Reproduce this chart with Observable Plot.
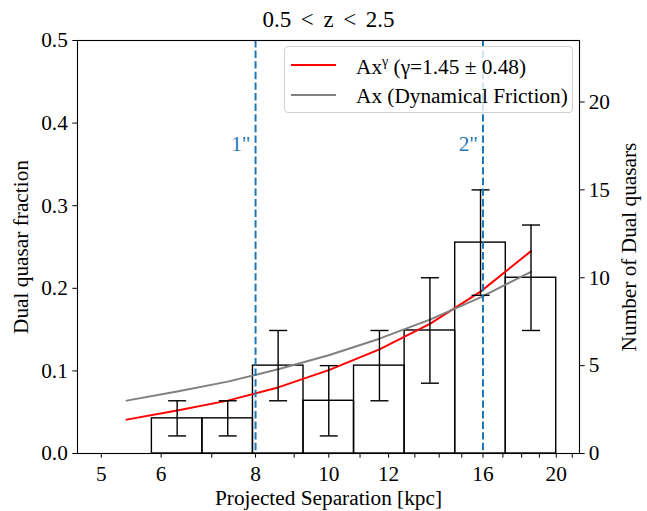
<!DOCTYPE html>
<html><head><meta charset="utf-8">
<script src="https://cdn.jsdelivr.net/npm/d3@7"></script>
<script src="https://cdn.jsdelivr.net/npm/@observablehq/plot@0.6"></script>
<style>
body{margin:0;background:#fff;}
#wrap{position:relative;width:647px;height:511px;font-family:"Liberation Serif","Times New Roman",serif;color:#000;}
#legend{position:absolute;left:284px;top:46px;width:287px;height:65px;border:1px solid #d0d0d0;border-radius:4px;background:rgba(255,255,255,0.8);font-size:21.3px;}
.sw{position:absolute;left:6px;width:45px;height:2px;}
.lt{position:absolute;left:71px;white-space:nowrap;line-height:1;}
.sup{font-size:14px;position:relative;top:-8px;}
</style></head>
<body>
<div id="wrap"></div>
<script>
const N_TOTAL = 47;
const binEdges = [5, 5.833, 6.804, 7.937, 9.259, 10.80, 12.60, 14.70, 17.15, 20.0];
const counts = [0, 2, 2, 5, 3, 5, 7, 12, 10];
const errLow = [null, 1, 1, 3, 1, 3, 4, 9, 7];
const errHigh = [null, 3, 3, 7, 5, 7, 10, 15, 13];
const binCenters = [5.40, 6.30, 7.35, 8.57, 10.0, 11.67, 13.61, 15.88, 18.52];
const powerLawFraction = [0.041, 0.052, 0.064, 0.080, 0.101, 0.126, 0.157, 0.196, 0.245];
const dynFrictionFraction = [0.064, 0.075, 0.087, 0.102, 0.119, 0.139, 0.162, 0.189, 0.220];
const xTicks = [5,6,7,8,9,10,11,12,13,14,15,16,17,18,19,20,21];
const xTickLabels = [5,6,8,10,12,16,20];
const leftTicks = [0, 0.1, 0.2, 0.3, 0.4, 0.5];
const rightTicks = [0, 5, 10, 15, 20];
const angularLines = [8, 16];
const angularLabels = ['1"', '2"'];
const angularLabelFraction = [0.375, 0.375];

const bins = counts.map((c, i) => ({x1: binEdges[i], x2: binEdges[i + 1], count: c}));
const errs = counts.map((c, i) => ({x: binCenters[i], lo: errLow[i], hi: errHigh[i]})).filter(d => d.lo != null);
const curveRed = binCenters.map((x, i) => ({x, y: powerLawFraction[i] * N_TOTAL}));
const curveGray = binCenters.map((x, i) => ({x, y: dynFrictionFraction[i] * N_TOTAL}));
const annot = angularLines.map((x, i) => ({x, y: angularLabelFraction[i] * N_TOTAL, t: angularLabels[i]}));

const capSymbol = {draw(ctx, size) {const r = Math.sqrt(size / Math.PI); ctx.moveTo(-r, 0); ctx.lineTo(r, 0);}};
const blue = "#1f77b4";
const FS = 21.3;
const SP = " \u200A\u200A";

const chart = Plot.plot({
  width: 647, height: 511,
  marginLeft: 77, marginRight: 68, marginTop: 40, marginBottom: 58,
  style: {fontFamily: "'Liberation Serif', 'Times New Roman', serif", fontSize: FS + "px", background: "white", color: "black", overflow: "visible"},
  x: {type: "log", domain: [4.65, 21.47], label: null},
  y: {domain: [0, 0.5 * N_TOTAL], label: null},
  marks: [
    Plot.rectY(bins, {x1: "x1", x2: "x2", y: "count", fill: "none", stroke: "black", strokeWidth: 1.4}),
    Plot.line(curveRed, {x: "x", y: "y", stroke: "red", strokeWidth: 2}),
    Plot.line(curveGray, {x: "x", y: "y", stroke: "gray", strokeWidth: 2}),
    Plot.ruleX(errs, {x: "x", y1: "lo", y2: "hi", stroke: "black", strokeWidth: 1.4}),
    Plot.dot(errs, {x: "x", y: "lo", symbol: capSymbol, r: 9, fill: "none", stroke: "black", strokeWidth: 1.4}),
    Plot.dot(errs, {x: "x", y: "hi", symbol: capSymbol, r: 9, fill: "none", stroke: "black", strokeWidth: 1.4}),
    Plot.ruleX(angularLines, {stroke: blue, strokeWidth: 2, strokeDasharray: "7.4,3.2"}),
    Plot.text(annot, {x: "x", y: "y", text: "t", dx: -5, textAnchor: "end", lineAnchor: "middle", fill: blue, fontSize: FS}),
    Plot.frame({stroke: "black", strokeWidth: 1.1}),
    Plot.axisX(xTicks, {tickFormat: d => xTickLabels.includes(d) ? String(d) : "", tickSize: 4.7, tickPadding: 8, fontSize: FS, label: null}),
    Plot.axisY(leftTicks.map(f => f * N_TOTAL), {anchor: "left", tickFormat: d => (d / N_TOTAL).toFixed(1), tickSize: 4.7, tickPadding: 5, fontSize: FS, label: null}),
    Plot.axisY(rightTicks, {anchor: "right", tickFormat: d => String(d), tickSize: 4.7, tickPadding: 4.5, fontSize: FS, label: null}),
    Plot.text([`0.5${SP}<${SP}z${SP}<${SP}2.5`], {frameAnchor: "top", dy: -20.4, textAnchor: "middle", lineAnchor: "middle", fontSize: 23}),
    Plot.text(["Projected Separation [kpc]"], {frameAnchor: "bottom", dy: 45, textAnchor: "middle", lineAnchor: "middle", fontSize: FS}),
    Plot.text(["Dual quasar fraction"], {frameAnchor: "left", dx: -56, rotate: -90, textAnchor: "middle", lineAnchor: "middle", fontSize: FS}),
    Plot.text(["Number of Dual quasars"], {frameAnchor: "right", dx: 50, rotate: -90, textAnchor: "middle", lineAnchor: "middle", fontSize: FS})
  ]
});
const wrap = document.getElementById("wrap");
wrap.appendChild(chart);
const legend = document.createElement("div");
legend.id = "legend";
legend.innerHTML = `
  <div class="sw" style="top:17px;background:red"></div>
  <div class="lt" style="top:9.5px">Ax<span class="sup">γ</span> (γ=1.45 ± 0.48)</div>
  <div class="sw" style="top:47px;background:gray"></div>
  <div class="lt" style="top:38.5px">Ax (Dynamical Friction)</div>`;
wrap.appendChild(legend);
</script>
</body></html>
